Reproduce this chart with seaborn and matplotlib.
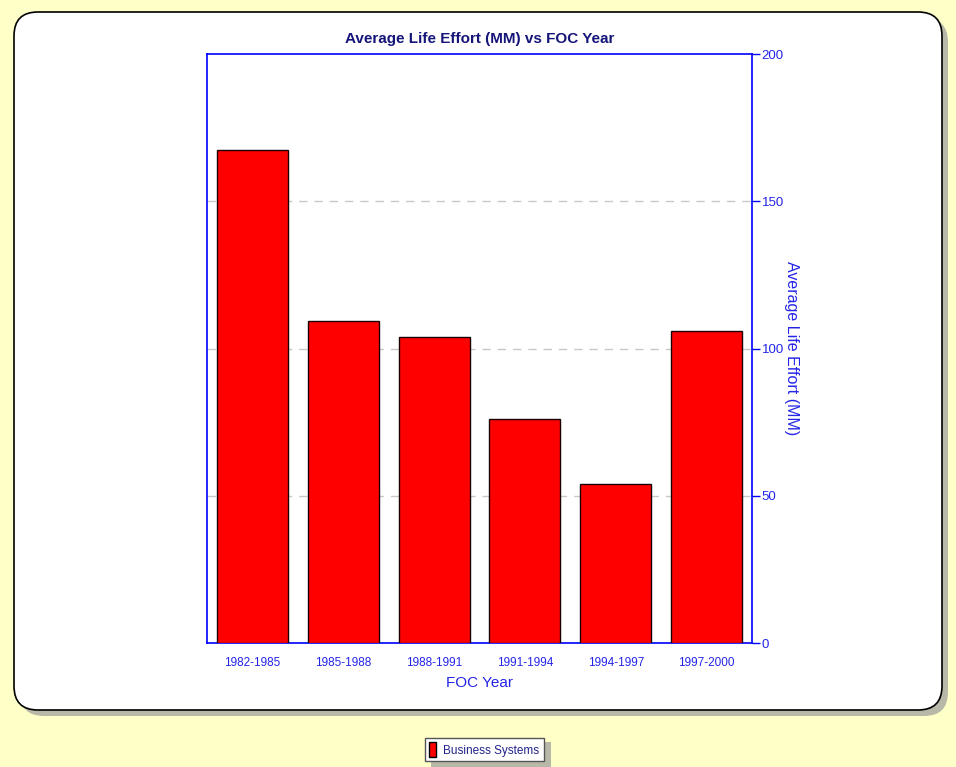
import matplotlib
matplotlib.use("Agg")
import matplotlib.pyplot as plt
from matplotlib.patches import FancyBboxPatch, Rectangle, Patch
import seaborn as sns
import pandas as pd

# Average life effort by FOC year band
periods = ["1982-1985", "1985-1988", "1988-1991", "1991-1994", "1994-1997", "1997-2000"]
effort = [167.4, 109.3, 103.9, 76.1, 54.0, 105.9]
series_name = "Business Systems"
y_ticks = [0, 50, 100, 150, 200]

df = pd.DataFrame({"FOC Year": periods, "Effort": effort})

sns.set_theme(style="white")
plt.rcParams["font.family"] = ["Liberation Sans", "DejaVu Sans"]

W, H = 956, 767
fig = plt.figure(figsize=(W / 100, H / 100), dpi=100)
fig.patch.set_facecolor("#FFFFC8")

def fx(px):
    return px / W

def fy(py):
    return 1 - py / H

# Rounded white panel with a soft grey drop shadow
shadow = FancyBboxPatch((fx(20), fy(716)), fx(928), 698 / H,
                        boxstyle="round,pad=0,rounding_size=0.025",
                        transform=fig.transFigure, facecolor="#B8B8A8",
                        edgecolor="none", zorder=0, mutation_aspect=W / H)
panel = FancyBboxPatch((fx(14), fy(710)), fx(928), 698 / H,
                       boxstyle="round,pad=0,rounding_size=0.025",
                       transform=fig.transFigure, facecolor="white",
                       edgecolor="black", linewidth=1.2, zorder=0.1,
                       mutation_aspect=W / H)
fig.patches.extend([shadow, panel])

ax = fig.add_axes([fx(207), fy(643), fx(752 - 207), (643 - 54) / H])
ax.set_zorder(2)
ax.set_facecolor("white")

sns.barplot(data=df, x="FOC Year", y="Effort", ax=ax, color="#FF0000",
            saturation=1, width=0.78, edgecolor="#1a0000", linewidth=1.0,
            zorder=3)

ax.set_xlim(-0.5, len(periods) - 0.5)
ax.set_ylim(0, 200)
ax.set_yticks(y_ticks)
ax.yaxis.tick_right()
ax.yaxis.set_label_position("right")

for v in [50, 100, 150]:
    ax.axhline(v, color="#C8C8C8", linestyle=(0, (6, 5)), linewidth=1.0, zorder=1)

blue = "#0000FF"
label_blue = "#2424E8"
for s in ax.spines.values():
    s.set_color(blue)
    s.set_linewidth(1.2)
    s.set_visible(True)

ax.tick_params(axis="x", direction="out", length=8, width=1, color="#3050FF",
               labelcolor=label_blue, labelsize=8.5, pad=2)
ax.tick_params(axis="y", direction="out", length=6, width=1, color=blue,
               labelcolor=label_blue, labelsize=9.5, pad=1,
               left=False, right=True)

ax.set_xlabel("FOC Year", color=label_blue, fontsize=11, labelpad=5)
ax.set_ylabel("Average Life Effort (MM)", color=label_blue, fontsize=11.5,
              rotation=-90, labelpad=11)
ax.set_title("Average Life Effort (MM) vs FOC Year", color="#15157A",
             fontsize=11, fontweight="bold", pad=8)

# Legend box at the bottom with a shadow
leg_shadow = Rectangle((fx(431), fy(770)), fx(120), 28 / H, transform=fig.transFigure,
                       facecolor="#B8B8A8", edgecolor="none", zorder=1)
fig.patches.append(leg_shadow)
handle = Patch(facecolor="#FF0000", edgecolor="black", linewidth=1)
leg = fig.legend([handle], [series_name], loc="upper left",
                 bbox_to_anchor=(fx(425), fy(738)), frameon=True, fancybox=False,
                 fontsize=8.5, handlelength=0.6, handleheight=1.6,
                 handletextpad=0.6, borderpad=0.35, borderaxespad=0)
leg.set_zorder(3)
leg.get_frame().set_edgecolor("#555555")
leg.get_frame().set_linewidth(1)
leg.get_frame().set_facecolor("white")
leg.get_frame().set_alpha(1)
for t in leg.get_texts():
    t.set_color("#22228A")

fig.savefig("out.png", dpi=100, facecolor=fig.get_facecolor())
